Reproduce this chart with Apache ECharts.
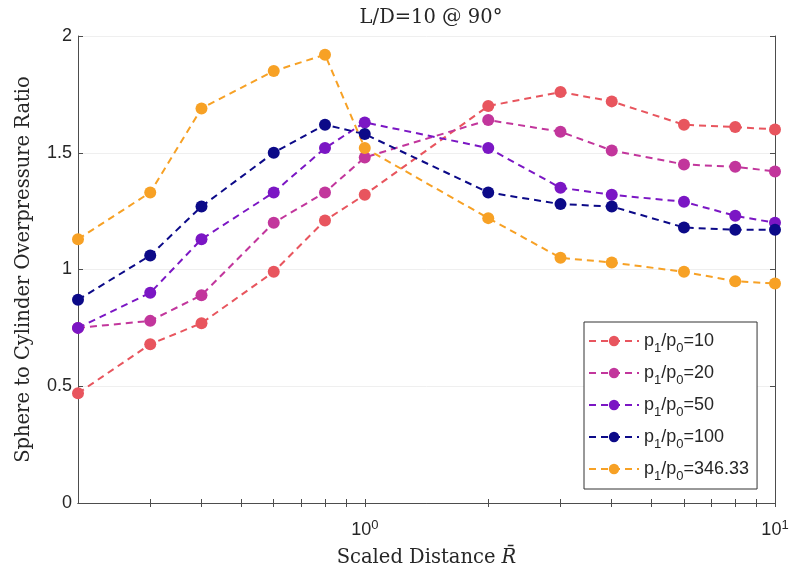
<!DOCTYPE html>
<html>
<head>
<meta charset="utf-8">
<script src="https://cdn.jsdelivr.net/npm/echarts@6/dist/echarts.min.js"></script>
<style>
  html, body { margin: 0; padding: 0; background: #fff; }
  #chart { width: 791px; height: 569px; }
</style>
</head>
<body>
<div id="chart"></div>
<script>
// Scaled distance R̄ (log axis)
const distances = [0.2, 0.3, 0.4, 0.6, 0.8, 1, 2, 3, 4, 6, 8, 10];

// Sphere-to-cylinder overpressure ratio, one list per pressure ratio p1/p0
const ratio10     = [0.47, 0.68, 0.77, 0.99, 1.21, 1.32, 1.70, 1.76, 1.72, 1.62, 1.61, 1.60];
const ratio20     = [0.75, 0.78, 0.89, 1.20, 1.33, 1.48, 1.64, 1.59, 1.51, 1.45, 1.44, 1.42];
const ratio50     = [0.75, 0.90, 1.13, 1.33, 1.52, 1.63, 1.52, 1.35, 1.32, 1.29, 1.23, 1.20];
const ratio100    = [0.87, 1.06, 1.27, 1.50, 1.62, 1.58, 1.33, 1.28, 1.27, 1.18, 1.17, 1.17];
const ratio346    = [1.13, 1.33, 1.69, 1.85, 1.92, 1.52, 1.22, 1.05, 1.03, 0.99, 0.95, 0.94];

const seriesNames  = ['p1/p0=10', 'p1/p0=20', 'p1/p0=50', 'p1/p0=100', 'p1/p0=346.33'];
const seriesValues = [ratio10, ratio20, ratio50, ratio100, ratio346];
const seriesColors = ['#e8555e', '#c2369c', '#7b16c4', '#0c0a88', '#f7a125'];

// Axis ticks
const xMinorTicks = [0.3, 0.4, 0.5, 0.6, 0.7, 0.8, 0.9, 1, 2, 3, 4, 5, 6, 7, 8, 9, 10];
const xLabelTicks = [1, 10];
const yTicks = [0, 0.5, 1, 1.5, 2];

const serifFont = '"DejaVu Serif", "Liberation Serif", serif';
const sansFont = '"Liberation Sans", Arial, sans-serif';
const axisColor = '#4d4d4d';
const textColor = '#262626';

const chart = echarts.init(document.getElementById('chart'), null, { renderer: 'canvas' });

const series = seriesNames.map((name, i) => ({
  name: name,
  type: 'line',
  xAxisIndex: 0,
  yAxisIndex: 0,
  data: distances.map((d, j) => [d, seriesValues[i][j]]),
  symbol: 'circle',
  symbolSize: 12,
  clip: false,
  color: seriesColors[i],
  lineStyle: { type: [7, 5], width: 2, color: seriesColors[i] },
  itemStyle: { color: seriesColors[i] },
  emphasis: { disabled: true },
  animation: false
}));

const xBase = {
  type: 'log',
  logBase: 10,
  min: 0.2,
  max: 10,
  axisLine: { show: true, lineStyle: { color: axisColor, width: 1 } },
  axisTick: { show: true, inside: true, length: 4, customValues: xMinorTicks, lineStyle: { color: axisColor } },
  splitLine: { show: false }
};

const yBase = {
  type: 'value',
  min: 0,
  max: 2,
  interval: 0.5,
  axisLine: { show: true, lineStyle: { color: axisColor, width: 1 } },
  axisTick: { show: true, inside: true, length: 5, lineStyle: { color: axisColor } },
  splitLine: { show: false }
};

chart.setOption({
  backgroundColor: '#fff',
  animation: false,
  title: {
    text: 'L/D=10 @ 90°',
    left: 426,
    top: 3,
    textAlign: 'center',
    textStyle: { fontFamily: serifFont, fontSize: 19.5, fontWeight: 'normal', color: textColor }
  },
  grid: { left: 78, right: 16, top: 36, bottom: 66, containLabel: false, outerBoundsMode: 'none' },
  legend: {
    orient: 'vertical',
    left: 584,
    top: 322,
    padding: [8, 8, 6, 4],
    itemGap: 7,
    itemWidth: 50,
    itemHeight: 13,
    backgroundColor: '#fff',
    borderColor: '#333',
    borderWidth: 1,
    borderRadius: 0,
    data: seriesNames,
    formatter: function (name) {
      const m = name.match(/^p1\/p0=(.*)$/);
      return 'p{sub|1}/p{sub|0}={base|' + m[1] + '}';
    },
    textStyle: {
      fontFamily: sansFont,
      fontSize: 18,
      color: textColor,
      lineHeight: 22,
      rich: {
        base: { fontFamily: sansFont, fontSize: 18, color: textColor, lineHeight: 22 },
        sub: { fontFamily: sansFont, fontSize: 13, color: textColor, lineHeight: 22, verticalAlign: 'bottom', padding: [0, 0, -3, 0] }
      }
    }
  },
  xAxis: [
    Object.assign({}, xBase, {
      position: 'bottom',
      name: 'Scaled Distance {it|R̄}',
      nameLocation: 'middle',
      nameGap: 45,
      nameTextStyle: {
        fontFamily: serifFont, fontSize: 19.5, color: textColor,
        rich: { it: { fontFamily: serifFont, fontSize: 19.5, fontStyle: 'italic', color: textColor } }
      },
      axisLabel: {
        show: true,
        customValues: xLabelTicks,
        margin: 16,
        fontFamily: sansFont,
        fontSize: 18,
        color: textColor,
        formatter: function (v) {
          return '10{sup|' + Math.round(Math.log10(v)) + '}';
        },
        rich: {
          sup: { fontFamily: sansFont, fontSize: 13, color: textColor, verticalAlign: 'top', lineHeight: 22 }
        }
      }
    }),
    Object.assign({}, xBase, {
      position: 'top',
      axisLabel: { show: false }
    })
  ],
  yAxis: [
    Object.assign({}, yBase, {
      position: 'left',
      name: 'Sphere to Cylinder Overpressure Ratio',
      nameLocation: 'middle',
      nameGap: 44,
      nameTextStyle: { fontFamily: serifFont, fontSize: 19.5, color: textColor },
      splitLine: { show: true, lineStyle: { color: '#efefef', width: 1 } },
      axisLabel: {
        show: true,
        margin: 6,
        fontFamily: sansFont,
        fontSize: 18,
        color: textColor,
        formatter: function (v) { return yTicks.indexOf(v) >= 0 ? String(v) : ''; }
      }
    }),
    Object.assign({}, yBase, {
      position: 'right',
      axisLabel: { show: false }
    })
  ],
  series: series
});
</script>
</body>
</html>
